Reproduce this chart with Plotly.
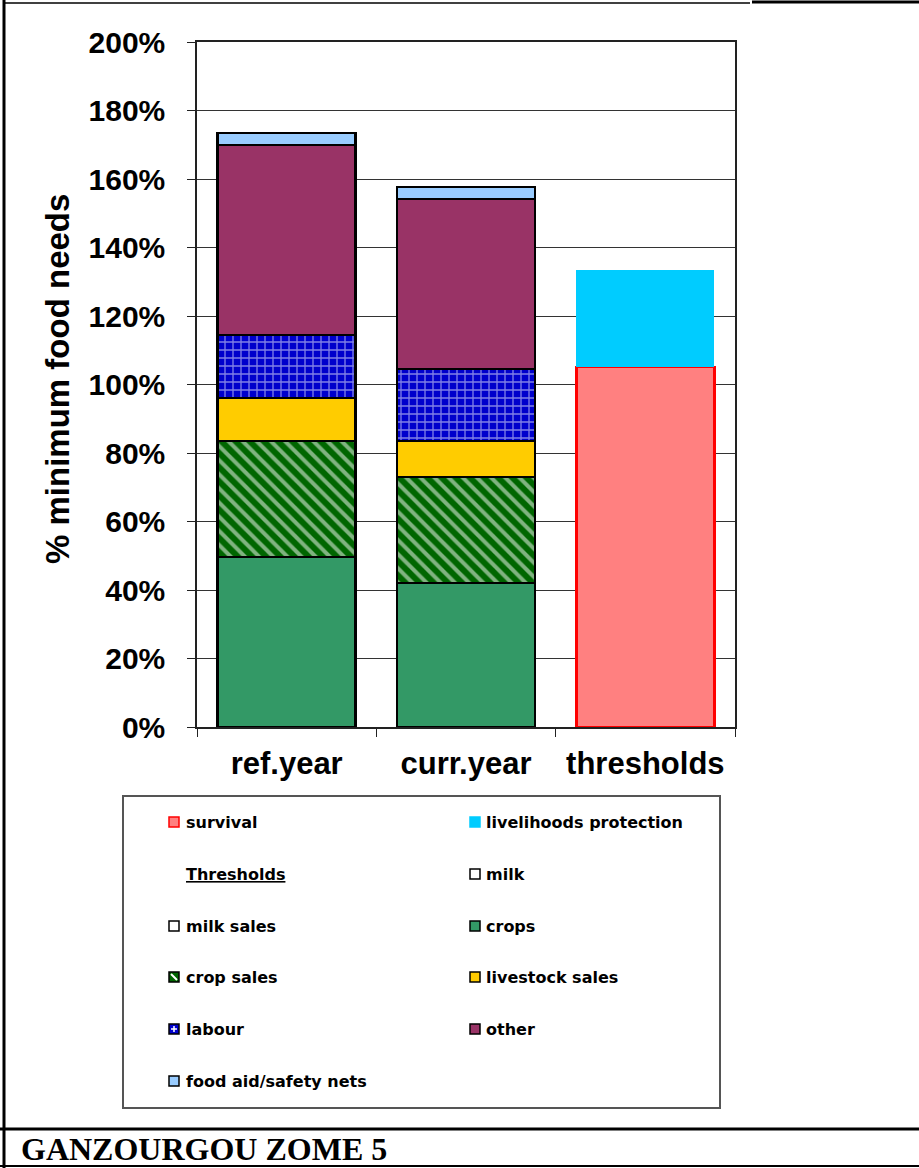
import plotly.graph_objects as go

categories = ["ref.year", "curr.year", "thresholds"]

milk = [0, 0, None]
milk_sales = [0, 0, None]
crops = [49.6, 42.0, None]
crop_sales = [33.9, 31.0, None]
livestock_sales = [12.6, 10.5, None]
labour = [18.4, 21.0, None]
other = [55.4, 49.7, None]
food_aid = [3.5, 3.5, None]
survival = [None, None, 105.1]
livelihoods = [None, None, 28.3]

y_ticks = [0, 20, 40, 60, 80, 100, 120, 140, 160, 180, 200]
y_labels = [f"{v}%" for v in y_ticks]

legend_names = ["survival", "livelihoods protection", "Thresholds", "milk", "milk sales",
                "crops", "crop sales", "livestock sales", "labour", "other",
                "food aid/safety nets"]
legend_fill = ["#FF8080", "#00CCFF", None, "white", "white", "#339966", "#006600",
               "#FFCC00", "#0000CC", "#993366", "#99CCFF"]
legend_edge = ["#FF0000", "#00CCFF", None, "black", "black", "black", "black",
               "black", "black", "black", "black"]

W, H = 919, 1168
L, R, T, B = 197, 735, 42, 727


def px(x):
    return (x - L) / (R - L)


def py(y):
    return (B - y) / (B - T)


fig = go.Figure()
black = dict(color="black", width=2.5)

fig.add_trace(go.Bar(x=categories, y=milk, marker=dict(color="white", line=black)))
fig.add_trace(go.Bar(x=categories, y=milk_sales, marker=dict(color="white", line=black)))
fig.add_trace(go.Bar(x=categories, y=crops, marker=dict(color="#339966", line=black)))
fig.add_trace(go.Bar(x=categories, y=crop_sales,
                     marker=dict(color="#006600", line=black,
                                 pattern=dict(shape="\\", fgcolor="white", bgcolor="#006600",
                                              size=10, solidity=0.4, fillmode="overlay"))))
fig.add_trace(go.Bar(x=categories, y=livestock_sales, marker=dict(color="#FFCC00", line=black)))
fig.add_trace(go.Bar(x=categories, y=labour,
                     marker=dict(color="#0000CC", line=black,
                                 pattern=dict(shape="+", fgcolor="white", bgcolor="#0000CC",
                                              size=8, solidity=0.3, fillmode="overlay"))))
fig.add_trace(go.Bar(x=categories, y=other, marker=dict(color="#993366", line=black)))
fig.add_trace(go.Bar(x=categories, y=food_aid, marker=dict(color="#99CCFF", line=black)))
fig.add_trace(go.Bar(x=categories, y=survival,
                     marker=dict(color="#FF8080", line=dict(color="#FF0000", width=2.5))))
fig.add_trace(go.Bar(x=categories, y=livelihoods,
                     marker=dict(color="#00CCFF", line=dict(color="#00CCFF", width=0))))

fig.update_traces(showlegend=False, hoverinfo="skip")

# hand-built legend box (two columns)
shapes = [dict(type="rect", xref="paper", yref="paper", x0=px(123), x1=px(720),
               y0=py(796), y1=py(1108), line=dict(color="#555555", width=2))]
annotations = []
row_y = [822, 874, 926, 977, 1029, 1081]
col_marker = [169, 470]
col_text = [184, 484]
for i, name in enumerate(legend_names):
    r, c = divmod(i, 2)
    yc = row_y[r]
    mx = col_marker[c]
    if legend_fill[i] is not None:
        shapes.append(dict(type="rect", xref="paper", yref="paper",
                           x0=px(mx), x1=px(mx + 10), y0=py(yc - 5), y1=py(yc + 5),
                           fillcolor=legend_fill[i], line=dict(color=legend_edge[i], width=1.5)))
        if name == "crop sales":
            shapes.append(dict(type="line", xref="paper", yref="paper",
                               x0=px(mx + 2), x1=px(mx + 8), y0=py(yc - 3), y1=py(yc + 3),
                               line=dict(color="white", width=2)))
        if name == "labour":
            shapes.append(dict(type="line", xref="paper", yref="paper",
                               x0=px(mx + 5), x1=px(mx + 5), y0=py(yc - 3), y1=py(yc + 3),
                               line=dict(color="white", width=1.5)))
            shapes.append(dict(type="line", xref="paper", yref="paper",
                               x0=px(mx + 2), x1=px(mx + 8), y0=py(yc), y1=py(yc),
                               line=dict(color="white", width=1.5)))
        label = name
    else:
        label = "<u>" + name + "</u>"
    annotations.append(dict(x=px(col_text[c]), y=py(yc), xref="paper", yref="paper",
                            text=label, showarrow=False, xanchor="left", yanchor="middle",
                            font=dict(family="DejaVu Sans", size=16, color="black",
                                      weight="bold")))

# page frame
frame = [
    (4, 0, 4, H, 3), (4, 3, 750, 3, 1.5), (752, 2, W, 2, 3),
    (0, 1129, W, 1129, 3), (0, 1166, W, 1166, 2),
]
for x0, y0, x1, y1, w in frame:
    shapes.append(dict(type="line", xref="paper", yref="paper", x0=px(x0), x1=px(x1),
                       y0=py(y0), y1=py(y1), line=dict(color="black", width=w)))

annotations.append(dict(x=px(19), y=py(1149), xref="paper", yref="paper",
                        text="GANZOURGOU ZOME 5", showarrow=False, xanchor="left",
                        yanchor="middle",
                        font=dict(family="Liberation Serif", size=32, color="black",
                                  weight="bold")))
annotations.append(dict(x=px(57), y=py(379), xref="paper", yref="paper",
                        text="% minimum food needs", showarrow=False, textangle=-90,
                        xanchor="center", yanchor="middle",
                        font=dict(family="Liberation Sans", size=33, color="black",
                                  weight="bold")))

fig.update_layout(
    barmode="stack", bargap=0.23,
    width=W, height=H, margin=dict(l=L, r=W - R, t=T, b=H - B),
    plot_bgcolor="white", paper_bgcolor="white",
    shapes=shapes, annotations=annotations,
    font=dict(family="Liberation Sans", color="black"),
)
fig.update_yaxes(range=[0, 200], tickmode="array", tickvals=y_ticks, ticktext=y_labels,
                 tickfont=dict(size=30, weight="bold"),
                 showgrid=True, gridcolor="#333333", gridwidth=1,
                 showline=True, linecolor="#222222", linewidth=1.5, mirror=True,
                 ticks="outside", ticklen=8, tickcolor="#222222",
                 ticklabelstandoff=16, zeroline=False)
fig.update_xaxes(tickson="boundaries", ticks="outside", ticklen=8, tickcolor="#222222",
                 showline=True, linecolor="#222222", linewidth=1.5, mirror=True,
                 tickfont=dict(size=31, weight="bold"), ticklabelstandoff=8)

fig.write_html("out.html", config={"displayModeBar": False},
               post_script="document.body.style.margin='0';")
